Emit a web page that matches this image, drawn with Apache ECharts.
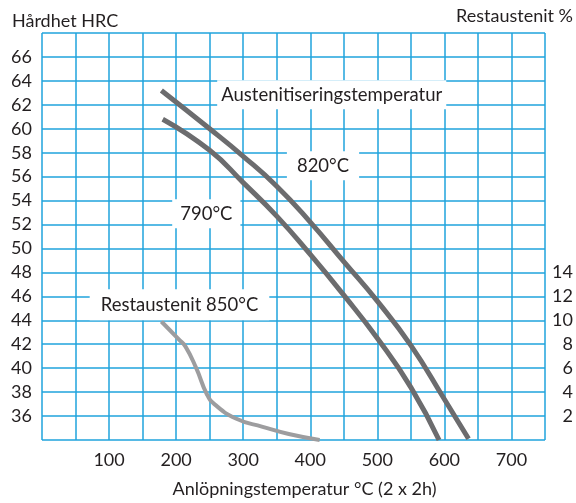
<!DOCTYPE html>
<html>
<head>
<meta charset="utf-8">
<script src="https://cdn.jsdelivr.net/npm/echarts@6/dist/echarts.min.js"></script>
<style>
html,body{margin:0;padding:0;background:#fff;}
#chart{width:576px;height:503px;}
</style>
</head>
<body>
<div id="chart"></div>
<script>
// Data
const temp820 = [178, 250, 300, 350, 400, 450, 500, 550, 600, 636];
const hrc820  = [63.2, 60.0, 57.7, 55.2, 52.2, 48.9, 45.6, 41.9, 37.4, 34.1];
const temp790 = [180, 250, 300, 350, 400, 450, 500, 550, 592];
const hrc790  = [60.8, 58.2, 55.5, 52.7, 49.5, 46.1, 42.5, 38.4, 34.0];
const tempRA  = [178, 204, 214, 230, 246, 257, 289, 329, 368, 414];
const restAust = [9.9, 8.4, 7.8, 6.0, 3.8, 3.0, 1.8, 1.1, 0.5, 0.0];
const xTickLabels = [100, 200, 300, 400, 500, 600, 700];
const leftTickLabels = [36, 38, 40, 42, 44, 46, 48, 50, 52, 54, 56, 58, 60, 62, 64, 66];
const rightTickLabels = [2, 4, 6, 8, 10, 12, 14];
const labels = [
  {text: 'Austenitiseringstemperatur', x: 432, y: 62.85, pad: [5, 4]},
  {text: '820°C', x: 419, y: 56.9, pad: [5, 10]},
  {text: '790°C', x: 245, y: 52.9, pad: [5, 8]},
  {text: 'Restaustenit 850°C', x: 205, y: 45.3, pad: [6, 11]}
];

const FONT = 'Lato';
const TXT = '#231f20';
const GRID = '#1fa3dc';

const zip = (a, b) => a.map((v, i) => [v, b[i]]);

const chart = echarts.init(document.getElementById('chart'));
chart.setOption({
  animation: false,
  backgroundColor: '#fff',
  grid: {left: 42, right: 26, top: 33, bottom: 52, containLabel: false},
  xAxis: {
    type: 'value', min: 0, max: 750, interval: 50,
    axisLine: {show: false}, axisTick: {show: false},
    splitLine: {show: true, lineStyle: {color: GRID, width: 1.5}},
    axisLabel: {
      color: TXT, fontFamily: FONT, fontSize: 18, margin: 11,
      formatter: v => xTickLabels.includes(v) ? String(v) : ''
    },
    name: 'Anlöpningstemperatur °C (2 x 2h)',
    nameLocation: 'middle', nameGap: 40,
    nameTextStyle: {color: TXT, fontFamily: FONT, fontSize: 18, padding: [0, 0, 0, 22]}
  },
  yAxis: [
    {
      type: 'value', min: 34, max: 68, interval: 2,
      axisLine: {show: false}, axisTick: {show: false},
      splitLine: {show: true, lineStyle: {color: GRID, width: 1.5}},
      axisLabel: {
        color: TXT, fontFamily: FONT, fontSize: 18, margin: 10,
        formatter: v => leftTickLabels.includes(v) ? String(v) : ''
      }
    },
    {
      type: 'value', min: 0, max: 34, interval: 2, position: 'right',
      axisLine: {show: false}, axisTick: {show: false},
      splitLine: {show: false},
      axisLabel: {
        color: TXT, fontFamily: FONT, fontSize: 18, margin: 28, align: 'right',
        formatter: v => rightTickLabels.includes(v) ? String(v) : ''
      }
    }
  ],
  graphic: [
    {type: 'text', left: 12, top: 12, style: {text: 'Hårdhet HRC', fill: TXT, font: '18px ' + FONT}},
    {type: 'text', right: 3, top: 7, style: {text: 'Restaustenit %', fill: TXT, font: '18px ' + FONT}}
  ],
  series: [
    {
      type: 'line', name: '820', data: zip(temp820, hrc820), yAxisIndex: 0,
      smooth: 0.5, showSymbol: false, symbol: 'none',
      lineStyle: {color: '#6c6c6e', width: 5, cap: 'butt'},
      z: 3,
      markPoint: {
        symbol: 'circle', symbolSize: 1, z: 10,
        itemStyle: {color: 'rgba(0,0,0,0)'},
        data: labels.map(l => ({
          coord: [l.x, l.y], name: l.text,
          label: {
            show: true, position: 'inside', formatter: '{b}',
            color: TXT, fontFamily: FONT, fontSize: 18.5,
            backgroundColor: '#fff', padding: l.pad
          }
        }))
      }
    },
    {
      type: 'line', name: '790', data: zip(temp790, hrc790), yAxisIndex: 0,
      smooth: 0.5, showSymbol: false, symbol: 'none',
      lineStyle: {color: '#6c6c6e', width: 5, cap: 'butt'},
      z: 3
    },
    {
      type: 'line', name: 'RA', data: zip(tempRA, restAust), yAxisIndex: 1,
      smooth: 0.5, showSymbol: false, symbol: 'none',
      lineStyle: {color: '#9d9d9f', width: 4, cap: 'butt'},
      z: 3
    }
  ]
});
</script>
</body>
</html>
